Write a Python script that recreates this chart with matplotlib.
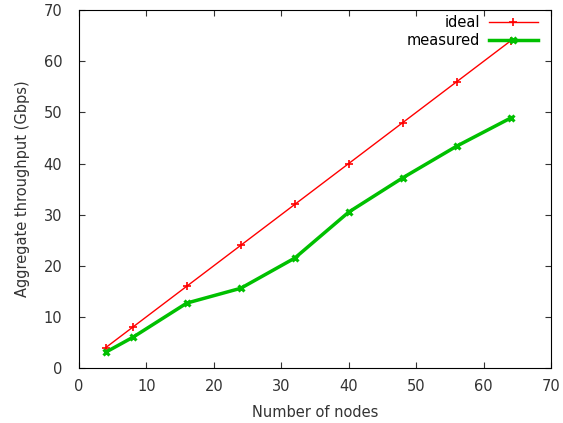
import matplotlib
matplotlib.use('Agg')
import matplotlib.pyplot as plt

nodes = [4, 8, 16, 24, 32, 40, 48, 56, 64]
ideal = [4, 8, 16, 24, 32, 40, 48, 56, 64]
measured = [3.1, 6.0, 12.7, 15.6, 21.5, 30.5, 37.2, 43.4, 48.9]

fig = plt.figure(figsize=(5.63, 4.23), dpi=100)
ax = fig.add_axes([0.140, 0.130, 0.839, 0.846])

ax.plot(nodes, ideal, c='#ff0000', lw=1.0, marker='+', ms=6, mew=1.2, label='ideal')
ax.plot(nodes, measured, c='#00c000', lw=2.5, marker='x', ms=5, mew=2.2, label='measured')

ax.set_xlim(0, 70)
ax.set_ylim(0, 70)
ax.set_xticks(range(0, 71, 10))
ax.set_yticks(range(0, 71, 10))
ax.tick_params(direction='in', top=True, right=True, labelsize=10.5, colors='#333333', length=4)
ax.tick_params(axis='x', pad=8)
ax.tick_params(axis='y', pad=12)
ax.set_xlabel('Number of nodes', fontsize=10.5, color='#333333', labelpad=8)
ax.set_ylabel('Aggregate throughput (Gbps)', fontsize=10.5, color='#333333', labelpad=10)

leg = ax.legend(loc='upper right', bbox_to_anchor=(0.985, 1.003), frameon=False,
                markerfirst=False, fontsize=10.5, handlelength=3.4, borderaxespad=0,
                labelspacing=0.2, handletextpad=0.6)

fig.savefig('out.png', dpi=100)
